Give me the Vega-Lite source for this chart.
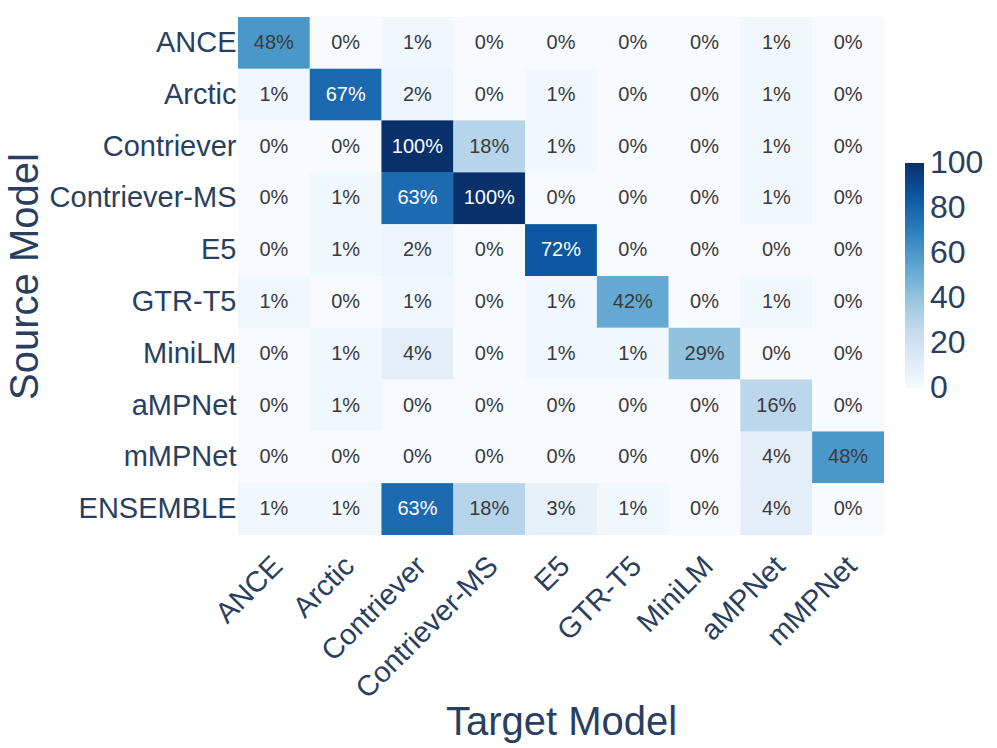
{
  "$schema": "https://vega.github.io/schema/vega-lite/v6.json",
  "width": 646,
  "height": 518,
  "autosize": {"type": "none"},
  "padding": {"left": 238, "top": 17, "right": 113, "bottom": 213},
  "background": "white",
  "config": {"view": {"stroke": null}, "font": "Liberation Sans"},
  "data": {
    "values": [
      {"s": "ANCE", "t": "ANCE", "v": 48}, {"s": "ANCE", "t": "Arctic", "v": 0}, {"s": "ANCE", "t": "Contriever", "v": 1}, {"s": "ANCE", "t": "Contriever-MS", "v": 0}, {"s": "ANCE", "t": "E5", "v": 0}, {"s": "ANCE", "t": "GTR-T5", "v": 0}, {"s": "ANCE", "t": "MiniLM", "v": 0}, {"s": "ANCE", "t": "aMPNet", "v": 1}, {"s": "ANCE", "t": "mMPNet", "v": 0},
      {"s": "Arctic", "t": "ANCE", "v": 1}, {"s": "Arctic", "t": "Arctic", "v": 67}, {"s": "Arctic", "t": "Contriever", "v": 2}, {"s": "Arctic", "t": "Contriever-MS", "v": 0}, {"s": "Arctic", "t": "E5", "v": 1}, {"s": "Arctic", "t": "GTR-T5", "v": 0}, {"s": "Arctic", "t": "MiniLM", "v": 0}, {"s": "Arctic", "t": "aMPNet", "v": 1}, {"s": "Arctic", "t": "mMPNet", "v": 0},
      {"s": "Contriever", "t": "ANCE", "v": 0}, {"s": "Contriever", "t": "Arctic", "v": 0}, {"s": "Contriever", "t": "Contriever", "v": 100}, {"s": "Contriever", "t": "Contriever-MS", "v": 18}, {"s": "Contriever", "t": "E5", "v": 1}, {"s": "Contriever", "t": "GTR-T5", "v": 0}, {"s": "Contriever", "t": "MiniLM", "v": 0}, {"s": "Contriever", "t": "aMPNet", "v": 1}, {"s": "Contriever", "t": "mMPNet", "v": 0},
      {"s": "Contriever-MS", "t": "ANCE", "v": 0}, {"s": "Contriever-MS", "t": "Arctic", "v": 1}, {"s": "Contriever-MS", "t": "Contriever", "v": 63}, {"s": "Contriever-MS", "t": "Contriever-MS", "v": 100}, {"s": "Contriever-MS", "t": "E5", "v": 0}, {"s": "Contriever-MS", "t": "GTR-T5", "v": 0}, {"s": "Contriever-MS", "t": "MiniLM", "v": 0}, {"s": "Contriever-MS", "t": "aMPNet", "v": 1}, {"s": "Contriever-MS", "t": "mMPNet", "v": 0},
      {"s": "E5", "t": "ANCE", "v": 0}, {"s": "E5", "t": "Arctic", "v": 1}, {"s": "E5", "t": "Contriever", "v": 2}, {"s": "E5", "t": "Contriever-MS", "v": 0}, {"s": "E5", "t": "E5", "v": 72}, {"s": "E5", "t": "GTR-T5", "v": 0}, {"s": "E5", "t": "MiniLM", "v": 0}, {"s": "E5", "t": "aMPNet", "v": 0}, {"s": "E5", "t": "mMPNet", "v": 0},
      {"s": "GTR-T5", "t": "ANCE", "v": 1}, {"s": "GTR-T5", "t": "Arctic", "v": 0}, {"s": "GTR-T5", "t": "Contriever", "v": 1}, {"s": "GTR-T5", "t": "Contriever-MS", "v": 0}, {"s": "GTR-T5", "t": "E5", "v": 1}, {"s": "GTR-T5", "t": "GTR-T5", "v": 42}, {"s": "GTR-T5", "t": "MiniLM", "v": 0}, {"s": "GTR-T5", "t": "aMPNet", "v": 1}, {"s": "GTR-T5", "t": "mMPNet", "v": 0},
      {"s": "MiniLM", "t": "ANCE", "v": 0}, {"s": "MiniLM", "t": "Arctic", "v": 1}, {"s": "MiniLM", "t": "Contriever", "v": 4}, {"s": "MiniLM", "t": "Contriever-MS", "v": 0}, {"s": "MiniLM", "t": "E5", "v": 1}, {"s": "MiniLM", "t": "GTR-T5", "v": 1}, {"s": "MiniLM", "t": "MiniLM", "v": 29}, {"s": "MiniLM", "t": "aMPNet", "v": 0}, {"s": "MiniLM", "t": "mMPNet", "v": 0},
      {"s": "aMPNet", "t": "ANCE", "v": 0}, {"s": "aMPNet", "t": "Arctic", "v": 1}, {"s": "aMPNet", "t": "Contriever", "v": 0}, {"s": "aMPNet", "t": "Contriever-MS", "v": 0}, {"s": "aMPNet", "t": "E5", "v": 0}, {"s": "aMPNet", "t": "GTR-T5", "v": 0}, {"s": "aMPNet", "t": "MiniLM", "v": 0}, {"s": "aMPNet", "t": "aMPNet", "v": 16}, {"s": "aMPNet", "t": "mMPNet", "v": 0},
      {"s": "mMPNet", "t": "ANCE", "v": 0}, {"s": "mMPNet", "t": "Arctic", "v": 0}, {"s": "mMPNet", "t": "Contriever", "v": 0}, {"s": "mMPNet", "t": "Contriever-MS", "v": 0}, {"s": "mMPNet", "t": "E5", "v": 0}, {"s": "mMPNet", "t": "GTR-T5", "v": 0}, {"s": "mMPNet", "t": "MiniLM", "v": 0}, {"s": "mMPNet", "t": "aMPNet", "v": 4}, {"s": "mMPNet", "t": "mMPNet", "v": 48},
      {"s": "ENSEMBLE", "t": "ANCE", "v": 1}, {"s": "ENSEMBLE", "t": "Arctic", "v": 1}, {"s": "ENSEMBLE", "t": "Contriever", "v": 63}, {"s": "ENSEMBLE", "t": "Contriever-MS", "v": 18}, {"s": "ENSEMBLE", "t": "E5", "v": 3}, {"s": "ENSEMBLE", "t": "GTR-T5", "v": 1}, {"s": "ENSEMBLE", "t": "MiniLM", "v": 0}, {"s": "ENSEMBLE", "t": "aMPNet", "v": 4}, {"s": "ENSEMBLE", "t": "mMPNet", "v": 0}
    ]
  },
  "transform": [{"calculate": "format(datum.v, '.0f') + '%'", "as": "lbl"}],
  "encoding": {
    "x": {
      "field": "t", "type": "nominal",
      "sort": ["ANCE", "Arctic", "Contriever", "Contriever-MS", "E5", "GTR-T5", "MiniLM", "aMPNet", "mMPNet"],
      "scale": {"paddingInner": 0, "paddingOuter": 0},
      "axis": {
        "title": "Target Model", "titleFontSize": 40, "titleFontWeight": "normal", "titleColor": "#2a3f5f",
        "titleX": 323, "titleY": 199, "titleAlign": "center", "titleBaseline": "alphabetic",
        "labelAngle": -45, "labelAlign": "right", "labelBaseline": "middle", "labelFontSize": 29,
        "labelColor": "#2a3f5f", "ticks": false, "domain": false, "labelPadding": 26, "labelOffset": 4,
        "labelLimit": 400, "labelOverlap": false
      }
    },
    "y": {
      "field": "s", "type": "nominal",
      "sort": ["ANCE", "Arctic", "Contriever", "Contriever-MS", "E5", "GTR-T5", "MiniLM", "aMPNet", "mMPNet", "ENSEMBLE"],
      "scale": {"paddingInner": 0, "paddingOuter": 0},
      "axis": {
        "title": "Source Model", "titleFontSize": 40, "titleFontWeight": "normal", "titleColor": "#2a3f5f",
        "titleX": -201, "titleY": 259, "titleAngle": -90, "titleAlign": "center", "titleBaseline": "alphabetic",
        "labelFontSize": 29, "labelColor": "#2a3f5f", "ticks": false, "domain": false, "labelPadding": 2,
        "labelLimit": 400, "labelOverlap": false
      }
    }
  },
  "layer": [
    {
      "mark": {"type": "rect"},
      "encoding": {
        "color": {
          "field": "v", "type": "quantitative",
          "scale": {
            "domain": [0, 12.5, 25, 37.5, 50, 62.5, 75, 87.5, 100],
            "range": ["#f7fbff", "#deebf7", "#c6dbef", "#9ecae1", "#6baed6", "#4292c6", "#2171b5", "#08519c", "#08306b"]
          },
          "legend": {
            "title": null, "orient": "none", "legendX": 667, "legendY": 146, "direction": "vertical",
            "gradientLength": 225, "gradientThickness": 19, "gradientStrokeWidth": 0,
            "labelFontSize": 32, "labelColor": "#2a3f5f", "labelFont": "Liberation Sans",
            "values": [0, 20, 40, 60, 80, 100], "labelOffset": 6, "labelBaseline": "middle",
            "labelOverlap": false, "padding": 0,
            "encode": {"labels": {"update": {"y": {"signal": "(1 - datum.perc) * 225"}, "baseline": {"value": "middle"}}}}
          }
        }
      }
    },
    {
      "mark": {"type": "rect"},
      "encoding": {
        "color": {
          "field": "v", "type": "quantitative",
          "scale": {
            "domain": [0, 1, 4, 16, 29, 42, 48, 63, 67, 72, 100],
            "range": ["#f7fbff", "#f0f7fd", "#e3eef9", "#bcd7ec", "#91c3de", "#64a9d3", "#4a98c9", "#1c6ab0", "#1b68ae", "#0d57a1", "#08306b"]
          },
          "legend": null
        }
      }
    },
    {
      "mark": {"type": "text", "fontSize": 20, "font": "Liberation Sans"},
      "encoding": {
        "text": {"field": "lbl", "type": "nominal"},
        "color": {"condition": {"test": "datum.v > 55", "value": "white"}, "value": "#3a3a3a"}
      }
    }
  ],
  "resolve": {"scale": {"color": "independent"}}
}
